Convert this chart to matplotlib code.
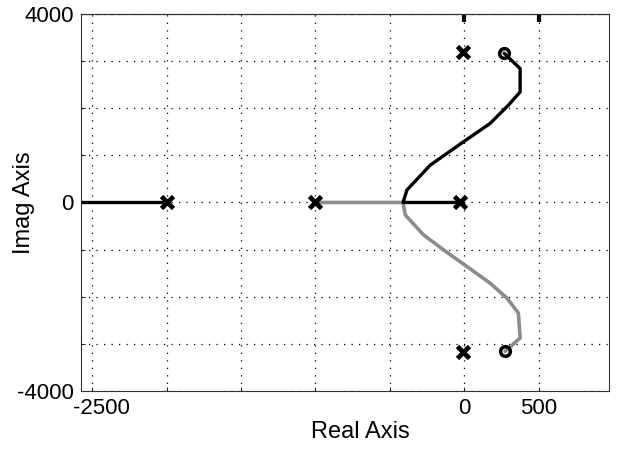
import matplotlib.pyplot as plt
from matplotlib.transforms import ScaledTranslation

plt.rcParams['font.family'] = ['Liberation Sans', 'DejaVu Sans']

# branch along the real axis to the left
b1_re = [-2000, -2600]
b1_im = [0, 0]

# grey branch: pole at -1000 -> breakaway -> lower zero
b2_re = [-1000, -411, -396, -273, -139, 18, 174, 287, 364, 376, 275]
b2_im = [0, 0, -265, -689, -1006, -1360, -1712, -2030, -2347, -2877, -3160]

# black branch: pole near origin -> breakaway -> upper zero
b3_re = [-25, -411, -385, -228, -5, 174, 297, 376, 376, 268]
b3_im = [0, 0, 265, 794, 1288, 1678, 2066, 2347, 2843, 3170]

pole_re = [-2000, -1000, -25, -10, -10]
pole_im = [0, 0, 0, 3190, -3180]
zero_re = [268, 275]
zero_im = [3170, -3160]

xticks = [-2500, -2000, -1500, -1000, -500, 0, 500]
xlabels = ['-2500', '', '', '', '', '0', '500']
yticks = [-4000, -3000, -2000, -1000, 0, 1000, 2000, 3000, 4000]
ylabels = ['-4000', '', '', '', '0', '', '', '', '4000']

fig = plt.figure(figsize=(6.22, 4.55), dpi=100)
ax = fig.add_axes([0.130, 0.141, 0.849, 0.828])

ax.plot(b1_re, b1_im, color='black', lw=2.4, solid_capstyle='round')
ax.plot(b2_re, b2_im, color='#8c8c8c', lw=2.6, solid_capstyle='round')
ax.plot(b3_re, b3_im, color='black', lw=2.4, solid_capstyle='round')
ax.plot(pole_re, pole_im, 'x', color='black', ms=8, mew=3.4)
ax.plot(zero_re, zero_im, 'o', mfc='none', mec='black', ms=7, mew=2.5)

ax.set_xlim(-2577, 973)
ax.set_ylim(-4000, 4000)
ax.set_xticks(xticks)
ax.set_xticklabels(xlabels)
ax.set_yticks(yticks)
ax.set_yticklabels(ylabels)
ax.tick_params(direction='in', length=3, width=0.6, labelsize=16, pad=5)
ax.grid(True, color='black', linestyle=(0, (1, 5)), linewidth=0.9)

# the -2500 label sits a little right of its tick in the original
first = ax.get_xticklabels()[0]
first.set_transform(first.get_transform() + ScaledTranslation(0.09, 0, fig.dpi_scale_trans))

top = ax.secondary_xaxis('top')
top.set_xticks([0, 500])
top.set_xticklabels(['', ''])
top.tick_params(direction='in', length=6, width=3)

for s in ax.spines.values():
    s.set_linewidth(0.8)
    s.set_color('#333333')

ax.set_xlabel('Real Axis', fontsize=17)
ax.set_ylabel('Imag Axis', fontsize=17)
ax.xaxis.set_label_coords(0.53, -0.08)
ax.yaxis.set_label_coords(-0.086, 0.5)

plt.savefig('out.png', dpi=100)
